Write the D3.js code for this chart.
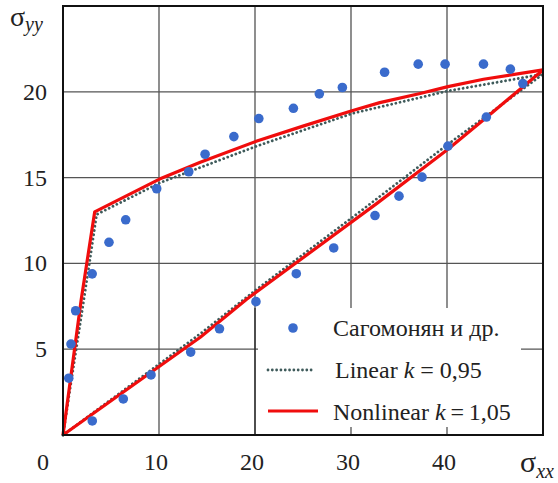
<!DOCTYPE html>
<html><head><meta charset="utf-8">
<script src="https://cdn.jsdelivr.net/npm/d3@7"></script>
<style>body{margin:0;background:#fff}svg{display:block}text{font-family:"Liberation Serif","Times New Roman",serif}</style>
</head><body><svg id="c" width="558" height="483"></svg>
<script>
// experimental points (Сагомонян и др.)
const expX = [0.6, 0.83, 1.32, 3.04, 4.79, 6.53, 9.76, 13.1, 14.8, 17.8, 20.4, 24.0, 26.7, 29.1, 33.5, 37.0, 39.8, 43.8, 46.6,
              3.05, 6.28, 9.17, 13.3, 16.3, 20.1, 24.3, 28.2, 32.5, 35.0, 37.4, 40.1, 44.1, 47.9];
const expY = [3.31, 5.3, 7.24, 9.39, 11.23, 12.54, 14.35, 15.34, 16.36, 17.39, 18.44, 19.04, 19.88, 20.25, 21.14, 21.61, 21.61, 21.61, 21.32,
              0.82, 2.1, 3.5, 4.83, 6.19, 7.77, 9.4, 10.9, 12.79, 13.92, 15.03, 16.84, 18.53, 20.48];
// Linear k = 0,95
const linUpX = [0, 2.75, 3.5, 10.1, 20.2, 30.1, 40.1, 50];
const linUpY = [0, 10.0, 12.85, 14.7, 16.84, 18.73, 20.05, 21.03];
const linLowX = [0, 14.3, 20.2, 30.9, 40.0, 50];
const linLowY = [0, 5.9, 8.5, 13.0, 16.9, 21.03];
// Nonlinear k = 1,05
const nlUpX = [0, 1.9, 3.3, 10, 14.3, 20.2, 25, 30.1, 33, 37.2, 40.1, 43.8, 50];
const nlUpY = [0, 7.9, 13.0, 14.9, 15.9, 17.13, 18.0, 18.9, 19.37, 19.9, 20.3, 20.73, 21.28];
const nlLowX = [0, 14.3, 19.1, 32.7, 40.1, 44.1, 50];
const nlLowY = [0, 5.7, 7.9, 13.5, 16.65, 18.5, 21.27];
// ticks
const xTicks = [0, 10, 20, 30, 40];
const yTicks = [5, 10, 15, 20];
const gridX = [10, 20, 30, 40];
const gridY = [5, 10, 15, 20];

const svg = d3.select("#c");
const x = d3.scaleLinear().domain([0, 50]).range([63, 543]);
const y = d3.scaleLinear().domain([0, 25]).range([435, 6]);
const serif = "Liberation Serif";

// grid
svg.append("g").selectAll("line").data(gridX).join("line")
  .attr("x1", d => x(d)).attr("x2", d => x(d)).attr("y1", y(25)).attr("y2", y(0))
  .attr("stroke", "#444").attr("stroke-width", 1.2);
svg.append("g").selectAll("line").data(gridY).join("line")
  .attr("y1", d => y(d)).attr("y2", d => y(d)).attr("x1", x(0)).attr("x2", x(50))
  .attr("stroke", "#555").attr("stroke-width", 1.3);

const line = (xs, ys) => d3.line().x((d, i) => x(xs[i])).y((d, i) => y(ys[i]))(xs);

// linear dotted
[[linUpX, linUpY], [linLowX, linLowY]].forEach(([xs, ys]) => {
  svg.append("path").attr("d", line(xs, ys)).attr("fill", "none")
    .attr("stroke", "#3f5b5b").attr("stroke-width", 2.8)
    .attr("stroke-linecap", "round").attr("stroke-dasharray", "0.01,4.3");
});
// nonlinear red
[[nlUpX, nlUpY], [nlLowX, nlLowY]].forEach(([xs, ys]) => {
  svg.append("path").attr("d", line(xs, ys)).attr("fill", "none")
    .attr("stroke", "#f00d0d").attr("stroke-width", 3.2).attr("stroke-linejoin", "round");
});
// points
svg.append("g").selectAll("circle").data(expX).join("circle")
  .attr("cx", d => x(d)).attr("cy", (d, i) => y(expY[i])).attr("r", 4.8)
  .attr("fill", "#3a6bcc");

// legend box
svg.append("rect").attr("x", 258).attr("y", 308).attr("width", 263).attr("height", 119).attr("fill", "#fff");
svg.append("line").attr("x1", x(20)).attr("x2", x(20)).attr("y1", 308).attr("y2", 435).attr("stroke", "#222").attr("stroke-width", 1.2);
const lg = svg.append("g").style("font-family", serif).style("font-size", "24px").attr("fill", "#222");
lg.append("circle").attr("cx", 293).attr("cy", 328).attr("r", 4.8).attr("fill", "#3a6bcc");
lg.append("text").attr("x", 333).attr("y", 336).text("Сагомонян и др.");
lg.append("line").attr("x1", 268).attr("x2", 313).attr("y1", 370).attr("y2", 370)
  .attr("stroke", "#3f5b5b").attr("stroke-width", 2.8).attr("stroke-linecap", "round").attr("stroke-dasharray", "0.01,4.3");
const t2 = lg.append("text").attr("x", 335).attr("y", 378);
t2.append("tspan").text("Linear ");
t2.append("tspan").style("font-style", "italic").text("k");
t2.append("tspan").text(" = 0,95");
lg.append("line").attr("x1", 268).attr("x2", 318).attr("y1", 411).attr("y2", 411)
  .attr("stroke", "#f00d0d").attr("stroke-width", 3.2);
const t3 = lg.append("text").attr("x", 333).attr("y", 420);
t3.append("tspan").text("Nonlinear ");
t3.append("tspan").style("font-style", "italic").text("k");
t3.append("tspan").text("\u2009=\u20091,05");

// frame
svg.append("rect").attr("x", x(0)).attr("y", y(25)).attr("width", x(50) - x(0)).attr("height", y(0) - y(25))
  .attr("fill", "none").attr("stroke", "#111").attr("stroke-width", 2);

// tick labels
svg.append("g").selectAll("text").data(xTicks).join("text")
  .attr("x", d => d === 0 ? 43 : x(d) - 3).attr("y", 470).attr("text-anchor", "middle")
  .style("font-family", serif).style("font-size", "24px").attr("fill", "#222").text(d => d);
svg.append("g").selectAll("text").data(yTicks).join("text")
  .attr("x", 47).attr("y", d => y(d) + 8).attr("text-anchor", "end")
  .style("font-family", serif).style("font-size", "24px").attr("fill", "#222").text(d => d);

// axis titles
const ty = svg.append("text").attr("x", 10).attr("y", 26).style("font-family", serif).attr("fill", "#222");
ty.append("tspan").style("font-size", "28px").text("σ");
ty.append("tspan").style("font-size", "20px").style("font-style", "italic").attr("dy", 5).text("yy");
const tx = svg.append("text").attr("x", 520).attr("y", 472).style("font-family", serif).attr("fill", "#222");
tx.append("tspan").style("font-size", "30px").text("σ");
tx.append("tspan").style("font-size", "20px").style("font-style", "italic").attr("dy", 6).text("xx");
</script></body></html>
